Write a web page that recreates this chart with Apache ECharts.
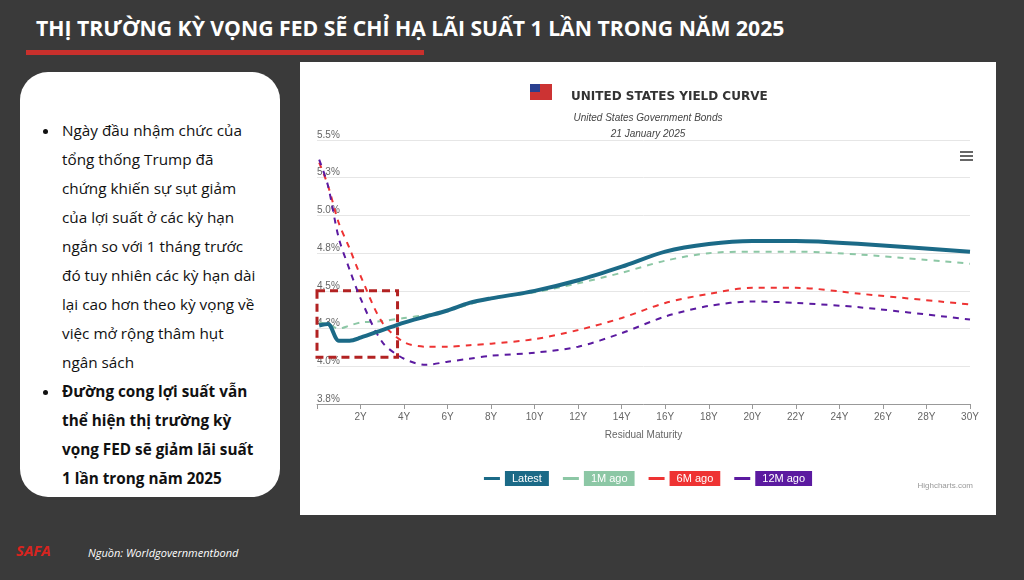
<!DOCTYPE html>
<html><head><meta charset="utf-8">
<script src="https://cdn.jsdelivr.net/npm/echarts@6/dist/echarts.min.js"></script>
<style>
body{margin:0;width:1024px;height:580px;overflow:hidden;background:#3a3a3a;font-family:"Open Sans","Noto Sans",sans-serif;position:relative}
#title{position:absolute;left:36px;top:13px;color:#fff;font-weight:bold;font-size:21.2px;font-family:"Open Sans",sans-serif}
#uline{position:absolute;left:26px;top:50px;width:398px;height:5px;background:#c9302c}
#box{position:absolute;left:20px;top:72px;width:260px;height:425px;background:#fff;border-radius:28px;box-sizing:border-box;padding:44px 6px 0 20px}
#box ul{margin:0;padding-left:20px;font-size:15.3px;line-height:29px;color:#111;white-space:nowrap}
#box li{padding-left:2px}
#chart{position:absolute;left:300px;top:62px;width:696px;height:453px;background:#fff}
#src{position:absolute;left:88px;top:545px;color:#fff;font-style:italic;font-size:11px}
#logo{position:absolute;left:16px;top:540px;color:#d8241f;font-weight:bold;font-style:italic;font-size:15px}
</style></head><body>
<div id="title">THỊ TRƯỜNG KỲ VỌNG FED SẼ CHỈ HẠ LÃI SUẤT 1 LẦN TRONG NĂM 2025</div>
<div id="uline"></div>
<div id="box"><ul>
<li>Ngày đầu nhậm chức của<br>tổng thống Trump đã<br>chứng khiến sự sụt giảm<br>của lợi suất ở các kỳ hạn<br>ngắn so với 1 tháng trước<br>đó tuy nhiên các kỳ hạn dài<br>lại cao hơn theo kỳ vọng về<br>việc mở rộng thâm hụt<br>ngân sách</li>
<li><b>Đường cong lợi suất vẫn<br>thể hiện thị trường kỳ<br>vọng FED sẽ giảm lãi suất<br>1 lần trong năm 2025</b></li>
</ul></div>
<div id="chart"></div>
<div id="logo">SAFA</div>
<div id="src">Nguồn: Worldgovernmentbond</div>
<script>
const maturities = [0.1,0.5,1,1.5,2,3,4,5,6,7,8,10,12,14,16,18,20,22,25,30];
const latest = [4.27,4.28,4.17,4.17,4.19,4.24,4.29,4.33,4.37,4.42,4.45,4.50,4.57,4.66,4.76,4.81,4.83,4.83,4.81,4.76];
const m1 = [4.29,4.28,4.25,4.27,4.29,4.30,4.32,4.34,4.37,4.41,4.45,4.49,4.55,4.62,4.70,4.75,4.76,4.76,4.74,4.68];
const m6 = [5.35,5.20,4.95,4.78,4.60,4.29,4.16,4.13,4.13,4.14,4.15,4.18,4.24,4.32,4.42,4.48,4.52,4.52,4.48,4.41];
const m12 = [5.37,5.20,4.85,4.64,4.45,4.16,4.05,4.01,4.03,4.05,4.07,4.09,4.13,4.22,4.33,4.40,4.43,4.42,4.39,4.31];
const names = ['Latest','1M ago','6M ago','12M ago'];
const colors = ['#1b6a87','#8cc7a5','#ee3333','#5b1aa0'];
const vals = [latest,m1,m6,m12];
const ch = echarts.init(document.getElementById('chart'));
const series = vals.map((v,i)=>({
  name:names[i], type:'line', smooth:0.3, symbol:'none',
  data: maturities.map((x,j)=>[x,v[j]]),
  lineStyle:{color:colors[i], width:i===0?4:2, type:i===0?'solid':[6,6]},
  itemStyle:{color:colors[i]}, z:i===0?5:3
}));
series[0].markArea = {silent:true, itemStyle:{color:'rgba(0,0,0,0)',borderColor:'#b22222',borderWidth:3,borderType:[8,5]},
  data:[[{coord:[0,4.5]},{coord:[3.7,4.06]}]]};
ch.setOption({
  animation:false,
  title:[{text:'UNITED STATES YIELD CURVE',left:266,top:24,textStyle:{fontSize:12,fontWeight:'bold',color:'#333',fontFamily:'DejaVu Sans'}},
         {text:'United States Government Bonds',left:'center',top:46,textStyle:{fontSize:10,fontStyle:'italic',fontWeight:'normal',color:'#444'}},
         {text:'21 January 2025',left:'center',top:62,textStyle:{fontSize:10,fontStyle:'italic',fontWeight:'normal',color:'#444'}},
         {text:'Highcharts.com',right:18,bottom:20,textStyle:{fontSize:8,fontWeight:'normal',color:'#999'}}],
  graphic:[
    {type:'rect',shape:{x:230,y:22,width:22,height:16},style:{fill:'#c33'}},
    {type:'rect',shape:{x:230,y:22,width:10,height:8},style:{fill:'#2a3f8f'}},
    {type:'rect',shape:{x:660,y:89,width:13,height:2},style:{fill:'#666'}},
    {type:'rect',shape:{x:660,y:93,width:13,height:2},style:{fill:'#666'}},
    {type:'rect',shape:{x:660,y:97,width:13,height:2},style:{fill:'#666'}}
  ],
  legend:{show:true,orient:'horizontal',top:404,left:'center',itemWidth:16,itemHeight:3,itemGap:14,icon:'rect',
    data:names.map((n,i)=>({name:n,textStyle:{color:'#fff',backgroundColor:colors[i],padding:[2,7]}})),
    textStyle:{fontSize:11}},
  grid:{left:17,right:26,top:78,bottom:111},
  xAxis:{type:'value',min:0,max:30,interval:2,name:'Residual Maturity',nameLocation:'middle',nameGap:26,
    nameTextStyle:{color:'#666',fontSize:10},
    axisLine:{lineStyle:{color:'#999'}},axisTick:{show:true,lineStyle:{color:'#999'}},splitLine:{show:false},
    axisLabel:{color:'#666',fontSize:10,formatter:v=>v===0?'':v+'Y'}},
  yAxis:{type:'value',min:3.75,max:5.5,interval:0.25,
    axisLabel:{inside:true,verticalAlign:'bottom',margin:0,color:'#666',fontSize:10,formatter:v=>v.toFixed(1)+'%'},
    splitLine:{lineStyle:{color:'#e6e6e6'}},axisLine:{show:false},axisTick:{show:false}},
  series
});
</script></body></html>
